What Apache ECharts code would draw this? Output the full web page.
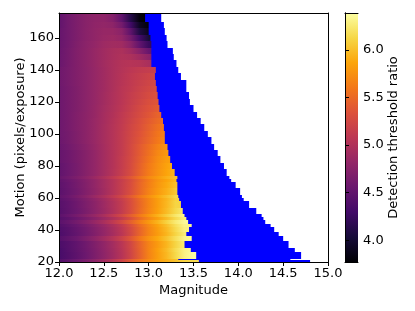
<!DOCTYPE html>
<html><head><meta charset="utf-8">
<style>html,body{margin:0;padding:0;background:#fff}#c{width:415px;height:311px}</style>
<script src="https://cdn.jsdelivr.net/npm/echarts@6/dist/echarts.min.js"></script>
</head><body><div id="c"></div>
<script>
const motionEdges=[20,21,22,26,29,33,36,39,42,44,46,48,50,54,58,60,62,66,70,72,74,78,82,86,90,94,98,102,106,110,114,118,122,126,130,134,138,142,146,150,154,158,162,166,170,176];
const heatEnd=[13.56,13.33,13.53,13.47,13.40,13.48,13.42,13.45,13.48,13.44,13.42,13.40,13.38,13.36,13.34,13.33,13.32,13.32,13.31,13.32,13.29,13.26,13.24,13.22,13.21,13.18,13.18,13.17,13.16,13.14,13.12,13.11,13.10,13.09,13.08,13.07,13.08,13.03,13.03,13.03,13.03,13.02,13.0,13.0,12.96];
const blueEnd=[14.80,14.58,14.70,14.63,14.56,14.50,14.45,14.40,14.36,14.30,14.28,14.26,14.20,14.12,14.06,14.04,14.02,13.97,13.92,13.90,13.87,13.84,13.80,13.77,13.73,13.70,13.66,13.62,13.58,13.54,13.50,13.46,13.45,13.42,13.42,13.36,13.33,13.31,13.28,13.27,13.21,13.20,13.18,13.17,13.14];
const magStart=12, magStep=0.1;
const ratio=[
[4.4,4.47,4.56,4.66,4.77,4.9,5.05,5.2,5.4,5.56,5.7,5.82,5.92,6.02,6.1,6.15,6.2],
[4.4,4.48,4.57,4.67,4.78,4.91,5.06,5.22,5.42,5.58,5.72,5.84,5.92,6.0],
[4.33,4.40,4.48,4.57,4.67,4.78,4.90,5.04,5.22,5.44,5.66,5.82,5.96,6.14,6.3,6.38],
[4.33,4.41,4.49,4.58,4.68,4.79,4.91,5.05,5.23,5.45,5.67,5.83,5.98,6.16,6.3,6.36],
[4.35,4.42,4.50,4.59,4.69,4.80,4.92,5.06,5.24,5.46,5.66,5.80,5.95,6.12,6.26],
[4.41,4.49,4.57,4.67,4.78,4.9,5.03,5.18,5.37,5.58,5.75,5.88,6.02,6.18,6.32,6.36],
[4.36,4.43,4.51,4.60,4.70,4.81,4.93,5.07,5.25,5.47,5.67,5.81,5.95,6.12,6.26],
[4.37,4.44,4.52,4.61,4.71,4.82,4.94,5.08,5.26,5.47,5.67,5.82,5.97,6.15,6.3],
[4.40,4.47,4.55,4.64,4.74,4.85,4.97,5.11,5.30,5.51,5.69,5.85,6.0,6.18,6.32],
[4.45,4.53,4.62,4.72,4.84,4.96,5.1,5.26,5.44,5.63,5.79,5.94,6.1,6.25,6.36],
[4.41,4.48,4.56,4.65,4.75,4.86,4.98,5.12,5.3,5.5,5.68,5.83,5.98,6.15,6.28],
[4.46,4.54,4.63,4.73,4.84,4.96,5.1,5.25,5.43,5.61,5.77,5.93,6.08,6.23,6.34],
[4.42,4.49,4.57,4.66,4.76,4.87,4.99,5.13,5.3,5.5,5.68,5.83,5.98,6.14,6.26],
[4.43,4.5,4.58,4.67,4.77,4.88,5.0,5.13,5.3,5.49,5.67,5.82,5.96,6.12],
[4.45,4.52,4.6,4.69,4.79,4.9,5.02,5.15,5.31,5.5,5.67,5.82,5.95,6.1],
[4.49,4.56,4.65,4.75,4.86,4.97,5.1,5.24,5.41,5.59,5.74,5.88,6.0,6.14],
[4.46,4.53,4.61,4.7,4.8,4.91,5.03,5.16,5.31,5.49,5.66,5.8,5.92,6.05],
[4.47,4.54,4.62,4.71,4.81,4.92,5.03,5.16,5.3,5.48,5.64,5.78,5.89,6.0],
[4.49,4.56,4.63,4.72,4.81,4.92,5.03,5.15,5.29,5.46,5.62,5.76,5.86,5.96],
[4.53,4.6,4.68,4.77,4.87,4.98,5.1,5.23,5.38,5.55,5.7,5.81,5.92,6.0],
[4.5,4.57,4.64,4.73,4.82,4.92,5.03,5.15,5.29,5.46,5.62,5.75,5.86,5.95],
[4.5,4.57,4.64,4.73,4.82,4.92,5.02,5.14,5.28,5.45,5.61,5.74,5.85,5.93],
[4.52,4.58,4.65,4.73,4.82,4.92,5.02,5.14,5.27,5.43,5.58,5.72,5.82],
[4.52,4.58,4.65,4.73,4.82,4.92,5.02,5.13,5.26,5.41,5.55,5.69,5.79],
[4.54,4.6,4.67,4.75,4.84,4.93,5.03,5.13,5.26,5.4,5.53,5.66,5.76],
[4.56,4.62,4.69,4.77,4.85,4.94,5.03,5.13,5.25,5.37,5.48,5.6,5.7],
[4.57,4.62,4.69,4.77,4.85,4.94,5.03,5.13,5.24,5.35,5.46,5.58,5.66],
[4.57,4.63,4.7,4.77,4.85,4.94,5.03,5.12,5.23,5.33,5.44,5.55,5.62],
[4.57,4.63,4.7,4.77,4.85,4.93,5.02,5.11,5.21,5.31,5.41,5.5,5.56],
[4.57,4.63,4.7,4.77,4.84,4.93,5.01,5.1,5.19,5.28,5.37,5.46],
[4.57,4.63,4.69,4.76,4.84,4.92,5.0,5.08,5.17,5.26,5.34,5.41],
[4.57,4.63,4.69,4.76,4.83,4.91,4.99,5.07,5.15,5.23,5.31,5.37],
[4.57,4.63,4.69,4.76,4.83,4.91,4.99,5.06,5.14,5.21,5.28,5.34],
[4.57,4.63,4.69,4.76,4.83,4.9,4.98,5.06,5.12,5.19,5.25,5.31],
[4.58,4.64,4.7,4.76,4.83,4.9,4.98,5.05,5.11,5.17,5.22,5.27],
[4.58,4.64,4.7,4.76,4.83,4.9,4.97,5.04,5.1,5.15,5.2,5.24],
[4.58,4.64,4.7,4.76,4.83,4.9,4.97,5.03,5.08,5.12,5.14,5.16],
[4.55,4.63,4.7,4.77,4.84,4.91,4.97,5.02,5.04,5.02,4.96,4.9],
[4.55,4.62,4.7,4.77,4.84,4.9,4.96,5,4.98,4.9,4.78,4.7],
[4.54,4.62,4.7,4.77,4.84,4.9,4.95,4.98,4.9,4.74,4.54,4.44],
[4.53,4.61,4.69,4.76,4.82,4.88,4.91,4.9,4.76,4.5,4.24,4.14],
[4.52,4.6,4.68,4.75,4.8,4.85,4.87,4.82,4.62,4.3,4.04,3.96],
[4.52,4.6,4.68,4.75,4.8,4.84,4.84,4.76,4.48,4.08,3.9,3.86],
[4.5,4.6,4.68,4.74,4.79,4.81,4.78,4.62,4.28,3.92,3.8],
[4.5,4.6,4.68,4.74,4.78,4.79,4.72,4.5,4.12,3.8,3.75]
];
const xTicks=[12,12.5,13,13.5,14,14.5,15];
const yTicks=[20,40,60,80,100,120,140,160];
const barTicks=[4,4.5,5,5.5,6];
const barRange=[3.77,6.39];
const inferno=['#000004','#160b39','#420a68','#6a176e','#932667','#bc3754','#dd513a','#f37819','#fca50a','#f6d746','#fcffa4'];
const font='"DejaVu Sans"', fs=13;
const toColor=v=>echarts.color.lerp(Math.max(0,Math.min(1,(v-barRange[0])/(barRange[1]-barRange[0]))),inferno);

function box(api,x0,x1,y0,y1){
  const a=api.coord([x0,y1]),b=api.coord([x1,y0]);
  const top=Math.round(a[1]),bot=Math.round(b[1]);
  return {x:a[0],y:top,width:b[0]-a[0],height:bot-top};
}
function heatItem(p,api){
  const i=api.value(4),row=ratio[i],end=api.value(1),span=end-magStart,stops=[];
  for(let k=0;k<row.length;k++){
    const m=magStart+k*magStep;
    if(m>=end){break;}
    stops.push({offset:(m-magStart)/span,color:toColor(row[k])});
  }
  const f=(end-magStart)/magStep,k0=Math.min(Math.floor(f),row.length-1),k1=Math.min(k0+1,row.length-1);
  stops.push({offset:1,color:toColor(row[k0]+(row[k1]-row[k0])*(f-k0))});
  return {type:'rect',shape:box(api,api.value(0),end,api.value(2),api.value(3)),
    style:{fill:new echarts.graphic.LinearGradient(0,0,1,0,stops)}};
}
function blueItem(p,api){
  return {type:'rect',shape:box(api,api.value(0),api.value(1),api.value(2),api.value(3)),style:{fill:'#0000ff'}};
}
function barItem(p,api){
  const stops=inferno.map((c,k)=>({offset:1-k/(inferno.length-1),color:c}));
  return {type:'rect',shape:box(api,0,1,api.value(0),api.value(1)),
    style:{fill:new echarts.graphic.LinearGradient(0,0,0,1,stops)}};
}
const labelStyle={color:'#000',fontFamily:font,fontSize:fs};
const lineBlack={show:true,lineStyle:{color:'#000',width:1}};
const tick={show:true,length:4,lineStyle:{color:'#000',width:1}};
const off={axisTick:{show:false},axisLabel:{show:false},splitLine:{show:false}};
const chart=echarts.init(document.getElementById('c'),null,{renderer:'canvas'});
chart.setOption({
  animation:false,backgroundColor:'#fff',
  grid:[{left:59,top:13,width:269,height:249},{left:345,top:13,width:13,height:249}],
  xAxis:[
    {type:'value',gridIndex:0,min:12,max:15,interval:0.5,z:5,axisLine:lineBlack,
      axisTick:Object.assign({customValues:xTicks},tick),
      axisLabel:Object.assign({customValues:xTicks,margin:5,formatter:v=>v.toFixed(1)},labelStyle),
      splitLine:{show:false},name:'Magnitude',nameLocation:'middle',nameGap:22,nameMoveOverlap:false,
      nameTextStyle:labelStyle},
    Object.assign({type:'value',gridIndex:0,min:12,max:15,position:'top',z:5,axisLine:lineBlack},off),
    Object.assign({type:'value',gridIndex:1,min:0,max:1,position:'bottom',z:5,axisLine:lineBlack},off),
    Object.assign({type:'value',gridIndex:1,min:0,max:1,position:'top',z:5,axisLine:lineBlack},off)
  ],
  yAxis:[
    {type:'value',gridIndex:0,min:20,max:175.6,interval:20,z:5,axisLine:lineBlack,
      axisTick:Object.assign({customValues:yTicks},tick),
      axisLabel:Object.assign({customValues:yTicks,margin:5},labelStyle),
      splitLine:{show:false},name:'Motion (pixels/exposure)',nameLocation:'middle',nameGap:32,nameMoveOverlap:false,
      nameTextStyle:labelStyle},
    Object.assign({type:'value',gridIndex:0,min:20,max:175.6,position:'right',z:5,axisLine:lineBlack},off),
    {type:'value',gridIndex:1,min:barRange[0],max:barRange[1],position:'right',z:5,axisLine:lineBlack,
      axisTick:Object.assign({customValues:barTicks},tick),
      axisLabel:Object.assign({customValues:barTicks,margin:5,formatter:v=>v.toFixed(1)},labelStyle),
      splitLine:{show:false},name:'Detection threshold ratio',nameLocation:'middle',nameGap:29,nameRotate:90,nameMoveOverlap:false,
      nameTextStyle:labelStyle},
    Object.assign({type:'value',gridIndex:1,min:barRange[0],max:barRange[1],position:'left',z:5,axisLine:lineBlack},off)
  ],
  series:[
    {type:'custom',xAxisIndex:0,yAxisIndex:0,clip:true,z:1,renderItem:blueItem,encode:{x:[0,1],y:[2,3]},
      data:heatEnd.map((e,i)=>[e-0.02,blueEnd[i],motionEdges[i],motionEdges[i+1]])},
    {type:'custom',xAxisIndex:0,yAxisIndex:0,clip:true,z:2,renderItem:heatItem,encode:{x:[0,1],y:[2,3]},
      data:heatEnd.map((e,i)=>[magStart,e,motionEdges[i],motionEdges[i+1],i])},
    {type:'custom',xAxisIndex:2,yAxisIndex:2,clip:true,z:2,renderItem:barItem,encode:{y:[0,1]},
      data:[barRange]}
  ]
});
</script></body></html>
